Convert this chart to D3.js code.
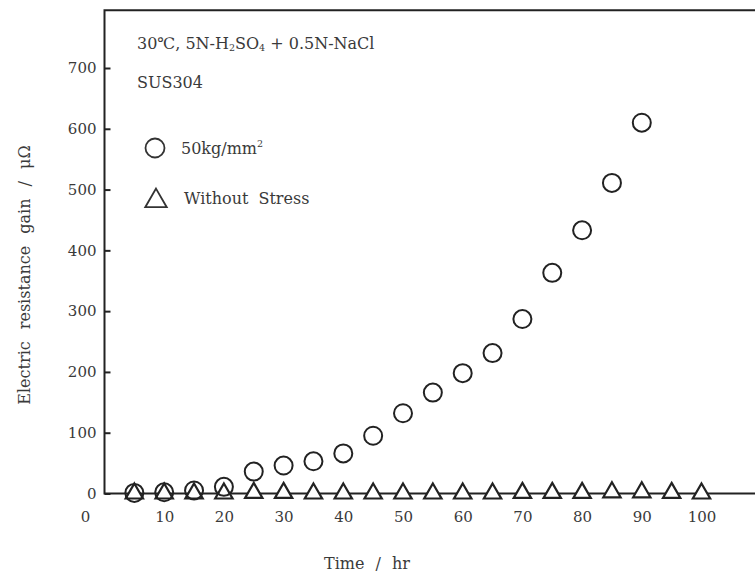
<!DOCTYPE html>
<html lang="en">
<head>
    <meta charset="UTF-8">
    <title>Electric resistance gain vs time</title>
    <script src="https://d3js.org/d3.v7.min.js"></script>
    <style>
        body { margin: 0; background: #fff; }
        svg text {
            font-family: "DejaVu Serif", "Liberation Serif", serif;
            fill: #3a3a3a;
        }
    </style>
</head>
<body>
    <svg id="chart" width="755" height="573"></svg>

    <script>
        // Data
        const hours = [5, 10, 15, 20, 25, 30, 35, 40, 45, 50, 55, 60, 65, 70, 75, 80, 85, 90, 95, 100];
        const stressed = [1, 2, 5, 11, 36, 46, 53, 66, 95, 132, 166, 198, 231, 287, 363, 433, 511, 610];
        const noStress = [0, 0, 0, 0, 1, 1, 0, 0, 0, 0, 0, 0, 0, 1, 1, 1, 2, 2, 1, 0];
        const xTicks = [10, 20, 30, 40, 50, 60, 70, 80, 90, 100];
        const yTicks = [0, 100, 200, 300, 400, 500, 600, 700];

        const stressedData = stressed.map((v, i) => ({t: hours[i], v: v}));
        const noStressData = noStress.map((v, i) => ({t: hours[i], v: v}));

        const svg = d3.select("#chart");
        const fs = 16;      // labels and notes
        const fsTick = 15;  // tick labels

        // Scales (the frame is cut off at the right edge)
        const xMax = 109, yMax = 795;
        const x = d3.scaleLinear().domain([0, xMax]).range([104.5, 104.5 + xMax * 5.97]);
        const y = d3.scaleLinear().domain([0, 700]).range([493.5, 68]);

        // Frame: left, top and bottom lines
        svg.append("path")
           .attr("d", `M${x(xMax)},${y(yMax)}H${x(0)}V${y(0)}H${x(xMax)}`)
           .attr("fill", "none")
           .attr("stroke", "#222")
           .attr("stroke-width", 2);

        // Y axis, ticks pointing inward
        const gy = svg.append("g")
           .attr("transform", `translate(${x(0)},0)`)
           .call(d3.axisLeft(y).tickValues(yTicks).tickSizeInner(-6).tickSizeOuter(0).tickPadding(8));
        gy.select(".domain").remove();
        gy.selectAll("line").attr("stroke", "#222").attr("stroke-width", 2);
        gy.selectAll("text").attr("font-size", fsTick).attr("font-family", null).attr("fill", null);

        // X axis, labels only
        const gx = svg.append("g")
           .attr("transform", `translate(0,${y(0)})`)
           .call(d3.axisBottom(x).tickValues(xTicks).tickSize(0).tickPadding(18));
        gx.select(".domain").remove();
        gx.selectAll("text").attr("font-size", fsTick).attr("font-family", null).attr("fill", null);

        // the x "0" sits left of the origin
        svg.append("text")
           .attr("x", x(0) - 19)
           .attr("y", y(0) + 18)
           .attr("dy", "0.71em")
           .attr("text-anchor", "middle")
           .attr("font-size", fsTick)
           .text("0");

        // Axis titles
        svg.append("text")
           .attr("x", 367)
           .attr("y", 569)
           .attr("text-anchor", "middle")
           .attr("font-size", fs)
           .attr("word-spacing", 6)
           .text("Time / hr");

        svg.append("text")
           .attr("transform", "translate(30,275) rotate(-90)")
           .attr("text-anchor", "middle")
           .attr("font-size", fs)
           .attr("word-spacing", 7)
           .text("Electric resistance gain / μΩ");

        // Annotations
        const t1 = svg.append("text")
           .attr("x", 137)
           .attr("y", 49)
           .attr("font-size", fs);
        t1.append("tspan").text("30℃, 5N-H");
        t1.append("tspan").attr("font-size", 9.5).attr("dy", 2).text("2");
        t1.append("tspan").attr("dy", -2).text("SO");
        t1.append("tspan").attr("font-size", 9.5).attr("dy", 2).text("4");
        t1.append("tspan").attr("dy", -2).text(" + 0.5N-NaCl");

        svg.append("text")
           .attr("x", 137)
           .attr("y", 88)
           .attr("font-size", fs)
           .text("SUS304");

        // Legend
        svg.append("circle")
           .attr("cx", 155).attr("cy", 148).attr("r", 9.5)
           .attr("fill", "none").attr("stroke", "#333").attr("stroke-width", 1.8);
        const t2 = svg.append("text")
           .attr("x", 181).attr("y", 154)
           .attr("font-size", fs);
        t2.append("tspan").text("50kg/mm");
        t2.append("tspan").attr("font-size", 9.5).attr("dy", -7).text("2");

        svg.append("path")
           .attr("transform", "translate(156,201)")
           .attr("d", d3.symbol(d3.symbolTriangle, 200)())
           .attr("fill", "none").attr("stroke", "#333").attr("stroke-width", 1.8);
        svg.append("text")
           .attr("x", 184).attr("y", 204)
           .attr("font-size", fs)
           .attr("word-spacing", 5)
           .text("Without Stress");

        // Without stress: triangles
        svg.selectAll(".tri")
           .data(noStressData)
           .enter()
           .append("path")
           .attr("class", "tri")
           .attr("transform", d => `translate(${x(d.t)},${y(d.v)})`)
           .attr("d", d3.symbol(d3.symbolTriangle, 130)())
           .attr("fill", "#fff")
           .attr("stroke", "#222")
           .attr("stroke-width", 2.2);

        // 50 kg/mm2: circles
        svg.selectAll(".dot")
           .data(stressedData)
           .enter()
           .append("circle")
           .attr("class", "dot")
           .attr("cx", d => x(d.t))
           .attr("cy", d => y(d.v))
           .attr("r", 9)
           .attr("fill", "none")
           .attr("stroke", "#222")
           .attr("stroke-width", 2);
    </script>
</body>
</html>
